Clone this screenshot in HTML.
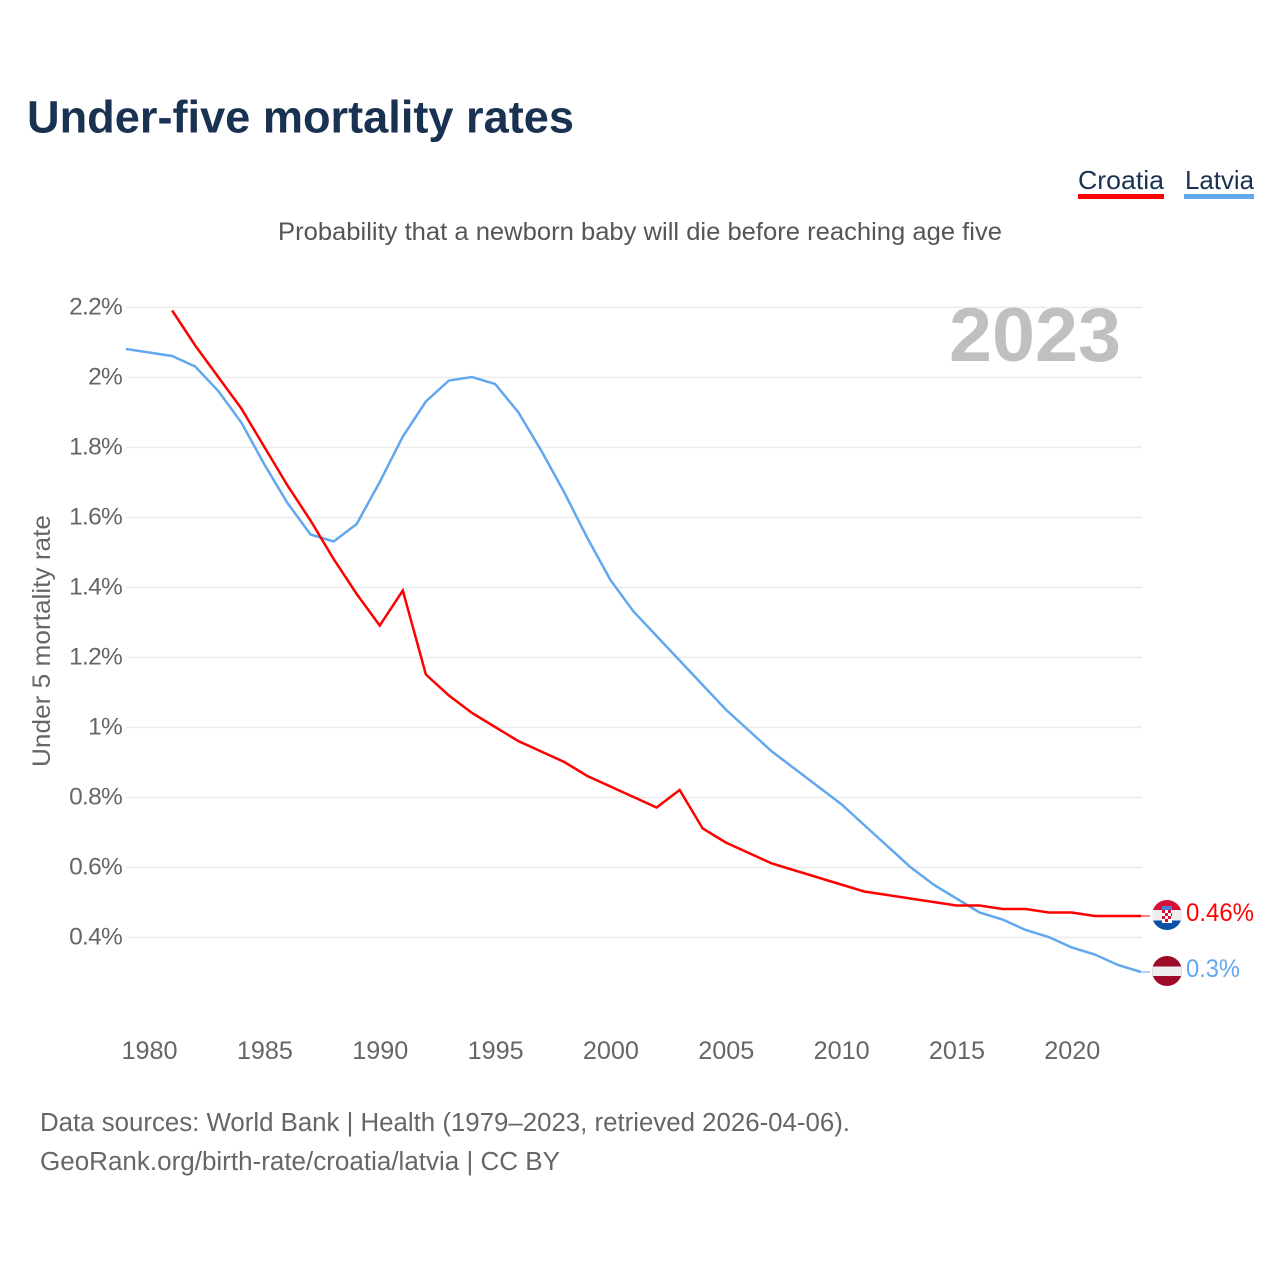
<!DOCTYPE html>
<html lang="en">
<head>
<meta charset="utf-8">
<title>Under-five mortality rates</title>
<style>
html,body{margin:0;padding:0;background:#fff;}
svg{display:block;}
text{font-family:"Liberation Sans",sans-serif;}
.xtick{font-size:25.2px;fill:#666;}
.ytick{font-size:24.5px;fill:#666;letter-spacing:-0.75px;}
</style>
</head>
<body>
<svg id="chart" xmlns="http://www.w3.org/2000/svg" width="1280" height="1280" viewBox="0 0 1280 1280">
  <rect x="0" y="0" width="1280" height="1280" fill="#fff"/>
  <text x="27" y="132.5" font-size="45" font-weight="700" fill="#1a3252" textLength="547" lengthAdjust="spacingAndGlyphs">Under-five mortality rates</text>
  <g>
    <g>
      <text x="1078" y="189" font-size="26" fill="#1a3252" textLength="86" lengthAdjust="spacingAndGlyphs">Croatia</text>
      <rect x="1078" y="194" width="86" height="5" fill="#ff0000"/>
    </g>
    <g>
      <text x="1185" y="189" font-size="26" fill="#1a3252" textLength="69" lengthAdjust="spacingAndGlyphs">Latvia</text>
      <rect x="1184" y="194" width="70" height="5" fill="#62a8ee"/>
    </g>
  </g>
  <text x="278" y="240" font-size="25" fill="#555" textLength="724" lengthAdjust="spacingAndGlyphs">Probability that a newborn baby will die before reaching age five</text>
  <text transform="translate(50 767) rotate(-90)" font-size="25" fill="#666" textLength="252" lengthAdjust="spacingAndGlyphs">Under 5 mortality rate</text>
  <g id="grid"></g>
  <g id="yticks"></g>
  <g id="xticks"></g>
  <text x="949" y="361" font-size="76" font-weight="700" fill="#c0c0c0" textLength="172" lengthAdjust="spacingAndGlyphs">2023</text>
  <g id="series"></g>
  <defs>
    <clipPath id="clip-hr"><circle cx="1167" cy="915" r="15"/></clipPath>
    <clipPath id="clip-lv"><circle cx="1167" cy="971" r="15"/></clipPath>
  </defs>
  <g id="flag-croatia" clip-path="url(#clip-hr)">
    <rect x="1152" y="900" width="30" height="10" fill="#d80f36"/>
    <rect x="1152" y="910" width="30" height="10.5" fill="#eeeeee"/>
    <rect x="1152" y="920.5" width="30" height="9.5" fill="#0a51a8"/>
    <rect x="1162" y="906" width="10" height="4" fill="#4a7fd0"/>
    <rect x="1162" y="910" width="10" height="13" fill="#fff"/>
    <rect x="1162" y="910" width="3" height="3" fill="#d80f36"/>
    <rect x="1168" y="910" width="3" height="3" fill="#d80f36"/>
    <rect x="1165" y="913" width="3" height="3" fill="#d80f36"/>
    <rect x="1171" y="913" width="1" height="3" fill="#d80f36"/>
    <rect x="1162" y="916" width="3" height="3" fill="#d80f36"/>
    <rect x="1168" y="916" width="3" height="3" fill="#d80f36"/>
    <rect x="1165" y="919" width="3" height="3" fill="#d80f36"/>
  </g>
  <g id="flag-latvia" clip-path="url(#clip-lv)">
    <rect x="1152" y="956" width="30" height="30" fill="#9e0b2a"/>
    <rect x="1152" y="966.5" width="30" height="9.5" fill="#eeeeee"/>
  </g>
  <text x="1186" y="921" font-size="25" fill="#ff0000" textLength="68" lengthAdjust="spacingAndGlyphs">0.46%</text>
  <text x="1186" y="977" font-size="25" fill="#62a8ee" textLength="54" lengthAdjust="spacingAndGlyphs">0.3%</text>
  <text x="40" y="1131" font-size="25.5" fill="#666" textLength="810" lengthAdjust="spacingAndGlyphs">Data sources: World Bank | Health (1979–2023, retrieved 2026-04-06).</text>
  <text x="40" y="1170" font-size="25.5" fill="#666" textLength="520" lengthAdjust="spacingAndGlyphs">GeoRank.org/birth-rate/croatia/latvia | CC BY</text>
</svg>
<script>
var years = [1979,1980,1981,1982,1983,1984,1985,1986,1987,1988,1989,1990,1991,1992,1993,1994,1995,1996,1997,1998,1999,2000,2001,2002,2003,2004,2005,2006,2007,2008,2009,2010,2011,2012,2013,2014,2015,2016,2017,2018,2019,2020,2021,2022,2023];
var latviaValues = [2.08,2.07,2.06,2.03,1.96,1.87,1.75,1.64,1.55,1.53,1.58,1.70,1.83,1.93,1.99,2.00,1.98,1.90,1.79,1.67,1.54,1.42,1.33,1.26,1.19,1.12,1.05,0.99,0.93,0.88,0.83,0.78,0.72,0.66,0.60,0.55,0.51,0.47,0.45,0.42,0.40,0.37,0.35,0.32,0.30];
var croatiaValues = [null,null,2.19,2.09,2.00,1.91,1.80,1.69,1.59,1.48,1.38,1.29,1.39,1.15,1.09,1.04,1.00,0.96,0.93,0.90,0.86,0.83,0.80,0.77,0.82,0.71,0.67,0.64,0.61,0.59,0.57,0.55,0.53,0.52,0.51,0.50,0.49,0.49,0.48,0.48,0.47,0.47,0.46,0.46,0.46];
var yTickValues = [2.2,2,1.8,1.6,1.4,1.2,1,0.8,0.6,0.4];
var yTickLabels = ["2.2%","2%","1.8%","1.6%","1.4%","1.2%","1%","0.8%","0.6%","0.4%"];
var xTickValues = [1980,1985,1990,1995,2000,2005,2010,2015,2020];
var xTickLabels = ["1980","1985","1990","1995","2000","2005","2010","2015","2020"];

var SVGNS = "http://www.w3.org/2000/svg";
function xScale(year){ return 126 + (year - 1979) * (1141 - 126) / 44; }
function yScale(v){ return 377 + (2 - v) * 350; }

var grid = document.getElementById("grid");
var yticks = document.getElementById("yticks");
var xticks = document.getElementById("xticks");
var seriesGroup = document.getElementById("series");

yTickValues.forEach(function(v, i){
  var line = document.createElementNS(SVGNS, "line");
  
  
  line.setAttribute("x1", 126);
  line.setAttribute("x2", 1142);
  line.setAttribute("y1", yScale(v) + 0.4);
  line.setAttribute("y2", yScale(v) + 0.4);
  line.setAttribute("stroke", "#ececec");
  line.setAttribute("stroke-width", 1.5);
  grid.appendChild(line);

  var label = document.createElementNS(SVGNS, "text");
  
  
  label.setAttribute("class", "ytick");
  label.setAttribute("x", 122);
  label.setAttribute("y", yScale(v) + 7.5);
  label.setAttribute("text-anchor", "end");
  label.textContent = yTickLabels[i];
  yticks.appendChild(label);
});

xTickValues.forEach(function(year, i){
  var label = document.createElementNS(SVGNS, "text");
  
  
  label.setAttribute("class", "xtick");
  label.setAttribute("x", xScale(year) + 0.5);
  label.setAttribute("y", 1059);
  label.setAttribute("text-anchor", "middle");
  label.textContent = xTickLabels[i];
  xticks.appendChild(label);
});

function pathFor(values){
  var d = "";
  values.forEach(function(v, i){
    if (v === null) return;
    d += (d ? "L" : "M") + xScale(years[i]).toFixed(2) + " " + yScale(v).toFixed(2);
  });
  return d;
}
function lastValue(values){
  return values[values.length - 1];
}

var latviaLine = document.createElementNS(SVGNS, "path");


latviaLine.setAttribute("d", pathFor(latviaValues));
latviaLine.setAttribute("fill", "none");
latviaLine.setAttribute("stroke", "#62a8ee");
latviaLine.setAttribute("stroke-width", 2.5);
seriesGroup.appendChild(latviaLine);

var croatiaLine = document.createElementNS(SVGNS, "path");


croatiaLine.setAttribute("d", pathFor(croatiaValues));
croatiaLine.setAttribute("fill", "none");
croatiaLine.setAttribute("stroke", "#ff0000");
croatiaLine.setAttribute("stroke-width", 2.5);
seriesGroup.appendChild(croatiaLine);

var latviaLeader = document.createElementNS(SVGNS, "line");


latviaLeader.setAttribute("x1", 1141);
latviaLeader.setAttribute("x2", 1150);
latviaLeader.setAttribute("y1", yScale(lastValue(latviaValues)));
latviaLeader.setAttribute("y2", yScale(lastValue(latviaValues)));
latviaLeader.setAttribute("stroke", "#62a8ee");
latviaLeader.setAttribute("stroke-width", 1);
seriesGroup.appendChild(latviaLeader);

var croatiaLeader = document.createElementNS(SVGNS, "line");


croatiaLeader.setAttribute("x1", 1141);
croatiaLeader.setAttribute("x2", 1150);
croatiaLeader.setAttribute("y1", yScale(lastValue(croatiaValues)));
croatiaLeader.setAttribute("y2", yScale(lastValue(croatiaValues)));
croatiaLeader.setAttribute("stroke", "#ff0000");
croatiaLeader.setAttribute("stroke-width", 1);
seriesGroup.appendChild(croatiaLeader);
</script>
</body>
</html>
